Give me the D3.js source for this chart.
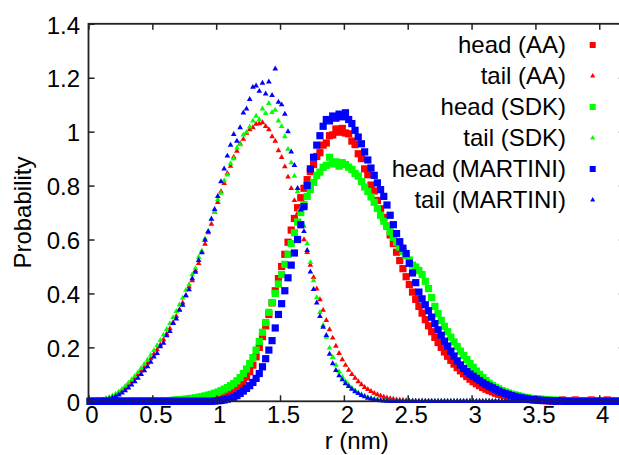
<!DOCTYPE html>
<html><head><meta charset="utf-8">
<script src="https://cdn.jsdelivr.net/npm/d3@7"></script>
<style>
body{margin:0;background:#fff}
svg{display:block}
text{font-family:"Liberation Sans",Arial,Helvetica,sans-serif;font-size:24px;fill:#000}
</style>
</head><body>
<svg id="c" width="619" height="455"></svg>
<script>
// sampling grid of r (nm): start and step of the histogram bins
const rStart = 0.0125, rStep = 0.025, nBins = 170;

const xTicks = [0, 0.5, 1, 1.5, 2, 2.5, 3, 3.5, 4];
const yTicks = [0, 0.2, 0.4, 0.6, 0.8, 1, 1.2, 1.4];
const xLabel = "r (nm)";
const yLabel = "Probability";

const seriesNames = ["head (AA)", "tail (AA)", "head (SDK)", "tail (SDK)", "head (MARTINI)", "tail (MARTINI)"];
const seriesColors = ["#ff0000", "#ff0000", "#00ff00", "#00ff00", "#0000ff", "#0000ff"];
const seriesShapes = ["square", "triangle", "square", "triangle", "square", "triangle"];

const headAA = [
0,0,0,0,0,0,0,0,0,0,
0,0,0,0,0,0,0,0,0,0,
0,0,0,0,0,0,0.001,0.001,0.001,0.002,
0.002,0.003,0.003,0.004,0.005,0.006,0.007,0.009,0.011,0.013,
0.016,0.019,0.023,0.028,0.034,0.041,0.050,0.061,0.074,0.090,
0.110,0.134,0.165,0.200,0.240,0.280,0.322,0.365,0.410,0.455,
0.500,0.545,0.590,0.635,0.678,0.718,0.755,0.790,0.822,0.852,
0.878,0.908,0.922,0.950,0.958,0.985,0.988,1.010,0.998,1.012,
0.995,0.992,0.965,0.952,0.918,0.900,0.862,0.840,0.802,0.780,
0.745,0.714,0.682,0.650,0.617,0.585,0.553,0.522,0.492,0.462,
0.433,0.405,0.378,0.352,0.327,0.303,0.280,0.258,0.237,0.218,
0.200,0.183,0.167,0.152,0.138,0.125,0.113,0.102,0.092,0.082,
0.073,0.065,0.058,0.051,0.045,0.040,0.035,0.030,0.026,0.023,
0.020,0.017,0.015,0.013,0.011,0.009,0.008,0.007,0.006,0.005,
0.004,0.003,0.003,0.002,0.002,0.001,0.001,0.001,0.005,0.001,
0.001,0.001,0.005,0.001,0,0,0,0.005,0,0,
0,0,0.005,0,0,0,0,0,0,0
];
const tailAA = [
0.000,0.001,0.002,0.003,0.005,0.008,0.012,0.017,0.024,0.031,
0.040,0.050,0.061,0.073,0.086,0.099,0.113,0.127,0.142,0.158,
0.175,0.192,0.210,0.229,0.250,0.270,0.292,0.315,0.340,0.365,
0.392,0.424,0.448,0.485,0.512,0.553,0.583,0.626,0.657,0.703,
0.738,0.778,0.808,0.846,0.872,0.906,0.928,0.956,0.972,0.995,
1.008,1.015,1.028,1.030,1.034,1.020,1.008,0.982,0.965,0.930,
0.905,0.870,0.832,0.790,0.745,0.697,0.648,0.600,0.552,0.505,
0.460,0.417,0.377,0.338,0.300,0.266,0.235,0.205,0.178,0.155,
0.134,0.116,0.100,0.086,0.073,0.062,0.052,0.044,0.037,0.030,
0.025,0.020,0.016,0.013,0.010,0.008,0.006,0.005,0.004,0.003,
0.002,0.002,0.001,0.001,0.001,0,0,0,0,0,
0,0,0,0,0,0,0,0,0,0,
0,0,0,0,0,0,0,0,0,0,
0,0,0,0,0,0,0,0,0,0,
0,0,0,0,0,0,0,0,0,0,
0,0,0,0,0,0,0,0,0,0,
0,0,0,0,0,0,0,0,0,0
];
const headSDK = [
0,0,0,0,0,0,0,0,0,0,
0,0,0,0,0,0,0,0.001,0.001,0.001,
0.001,0.001,0.001,0.002,0.002,0.003,0.004,0.005,0.006,0.007,
0.008,0.010,0.011,0.013,0.015,0.017,0.020,0.023,0.026,0.030,
0.034,0.039,0.045,0.051,0.058,0.066,0.076,0.088,0.103,0.120,
0.140,0.162,0.190,0.222,0.256,0.292,0.330,0.366,0.400,0.435,
0.470,0.508,0.545,0.585,0.625,0.665,0.700,0.730,0.760,0.785,
0.812,0.838,0.850,0.868,0.875,0.905,0.880,0.888,0.872,0.885,
0.878,0.868,0.860,0.845,0.835,0.815,0.795,0.778,0.758,0.738,
0.715,0.690,0.668,0.648,0.628,0.608,0.590,0.572,0.556,0.540,
0.524,0.505,0.498,0.485,0.470,0.445,0.418,0.385,0.352,0.325,
0.300,0.278,0.258,0.238,0.220,0.203,0.186,0.170,0.155,0.140,
0.126,0.112,0.100,0.088,0.077,0.067,0.059,0.052,0.046,0.040,
0.035,0.031,0.027,0.024,0.021,0.018,0.015,0.013,0.011,0.010,
0.009,0.008,0.007,0.006,0.005,0.004,0.004,0.003,0.003,0.002,
0.002,0.002,0.002,0.001,0.001,0.001,0.001,0.001,0.001,0.001,
0.001,0,0,0,0,0,0,0,0,0
];
const tailSDK = [
0,0.001,0.002,0.004,0.006,0.010,0.014,0.020,0.027,0.035,
0.045,0.056,0.068,0.080,0.093,0.107,0.122,0.138,0.154,0.171,
0.189,0.207,0.226,0.246,0.267,0.288,0.311,0.334,0.358,0.383,
0.412,0.433,0.470,0.493,0.535,0.558,0.603,0.630,0.676,0.702,
0.748,0.772,0.818,0.840,0.882,0.900,0.940,0.952,0.988,0.998,
1.018,1.040,1.058,1.045,1.085,1.068,1.105,1.072,1.080,1.040,
1.020,0.982,0.935,0.885,0.835,0.778,0.715,0.650,0.585,0.515,
0.448,0.385,0.330,0.282,0.238,0.198,0.163,0.134,0.110,0.090,
0.074,0.060,0.049,0.040,0.032,0.025,0.020,0.015,0.011,0.008,
0.006,0.004,0.003,0.002,0.001,0,0,0,0,0,
0,0,0,0,0,0,0,0,0,0,
0,0,0,0,0,0,0,0,0,0,
0,0,0,0,0,0,0,0,0,0,
0,0,0,0,0,0,0,0,0,0,
0,0,0,0,0,0,0,0,0,0,
0,0,0,0,0,0,0,0,0,0,
0,0,0,0,0,0,0,0,0,0
];
const headMARTINI = [
0,0,0,0,0,0,0,0,0,0,
0,0,0,0,0,0,0,0,0,0,
0,0,0,0,0,0,0,0,0,0,
0,0,0,0,0,0,0,0,0,0.001,
0.002,0.003,0.005,0.008,0.011,0.015,0.021,0.029,0.038,0.048,
0.058,0.070,0.085,0.103,0.128,0.158,0.190,0.225,0.272,0.322,
0.362,0.410,0.458,0.505,0.550,0.600,0.655,0.722,0.800,0.862,
0.905,0.950,0.985,1.020,1.045,1.040,1.058,1.050,1.065,1.055,
1.070,1.045,1.030,1.005,0.980,0.955,0.925,0.895,0.865,0.838,
0.810,0.785,0.760,0.728,0.690,0.655,0.622,0.592,0.568,0.548,
0.512,0.476,0.440,0.405,0.380,0.358,0.336,0.312,0.288,0.265,
0.245,0.223,0.205,0.186,0.168,0.150,0.135,0.122,0.111,0.101,
0.093,0.085,0.077,0.069,0.062,0.056,0.050,0.044,0.038,0.033,
0.029,0.025,0.021,0.018,0.015,0.013,0.011,0.009,0.007,0.006,
0.005,0.004,0.003,0.003,0.002,0.001,0.001,0.001,0.001,0,
0,0,0,0,0,0,0,0,0,0,
0,0,0,0,0,0,0,0,0,0
];
const tailMARTINI = [
0,0.001,0.001,0.002,0.004,0.006,0.009,0.013,0.018,0.024,
0.031,0.040,0.050,0.061,0.073,0.086,0.100,0.114,0.129,0.145,
0.165,0.178,0.203,0.216,0.244,0.259,0.289,0.306,0.338,0.357,
0.392,0.414,0.455,0.479,0.523,0.551,0.598,0.630,0.676,0.712,
0.760,0.815,0.862,0.910,0.950,0.990,0.965,1.015,1.070,1.085,
1.120,1.165,1.170,1.150,1.180,1.140,1.185,1.135,1.233,1.110,
1.100,1.065,1.000,0.925,0.875,0.790,0.710,0.630,0.560,0.480,
0.415,0.365,0.315,0.275,0.245,0.175,0.140,0.115,0.095,0.080,
0.066,0.055,0.045,0.036,0.029,0.022,0.017,0.012,0.009,0.006,
0.004,0.003,0.002,0.001,0,0,0,0,0,0,
0,0,0,0,0,0,0,0,0,0,
0,0,0,0,0,0,0,0,0,0,
0,0,0,0,0,0,0,0,0,0,
0,0,0,0,0,0,0,0,0,0,
0,0,0,0,0,0,0,0,0,0,
0,0,0,0,0,0,0,0,0,0,
0,0,0,0,0,0,0,0,0,0
];
const seriesValues = [headAA, tailAA, headSDK, tailSDK, headMARTINI, tailMARTINI];

(function () {
const r = d3.range(nBins).map(i => rStart + i * rStep);

const svg = d3.select("#c");
const x = d3.scaleLinear().domain([0, 4.2]).range([88.5, 624.8]);
const y = d3.scaleLinear().domain([0, 1.4]).range([401.3, 23.8]);

const sq = 7.2;
const tri = d3.symbol().type(d3.symbolTriangle).size(14);

function drawMarker(g, shape, color, cx, cy, s) {
  if (shape === "square") {
    g.append("rect").attr("x", cx - s/2).attr("y", cy - s/2)
      .attr("width", s).attr("height", s).attr("fill", color);
  } else {
    g.append("path").attr("d", d3.symbol().type(d3.symbolTriangle).size(11))
      .attr("transform", `translate(${cx},${cy})`).attr("fill", color);
  }
}

const plot = svg.append("g");
seriesValues.forEach((vals, si) => {
  const g = plot.append("g");
  const data = vals.map((v, i) => ({r: r[i], v}));
  if (seriesShapes[si] === "square") {
    g.selectAll("rect").data(data).join("rect")
      .attr("x", d => x(d.r) - sq/2).attr("y", d => y(d.v) - sq/2)
      .attr("width", sq).attr("height", sq).attr("fill", seriesColors[si]);
  } else {
    g.selectAll("path").data(data).join("path")
      .attr("d", tri).attr("transform", d => `translate(${x(d.r)},${y(d.v)})`)
      .attr("fill", seriesColors[si]);
  }
});

// axes
const axisColor = "#222";
const axB = svg.append("g").attr("transform", `translate(0,${y(0)})`)
  .call(d3.axisBottom(x).tickValues(xTicks).tickSize(-6).tickFormat(d => String(d)));
const axT = svg.append("g").attr("transform", `translate(0,${y(1.4)})`)
  .call(d3.axisTop(x).tickValues(xTicks).tickSize(-6).tickFormat(""));
const axL = svg.append("g").attr("transform", `translate(${x(0)},0)`)
  .call(d3.axisLeft(y).tickValues(yTicks).tickSize(-6).tickFormat(d => String(d)));
const axR = svg.append("g").attr("transform", `translate(${x(4.2)},0)`)
  .call(d3.axisRight(y).tickValues(yTicks).tickSize(-6).tickFormat(""));
[axB, axT, axL, axR].forEach(a => {
  a.select(".domain").remove();
  a.selectAll(".tick line").attr("stroke", axisColor).attr("stroke-width", 1.5);
  a.attr("font-family", null).attr("font-size", null);
});
axB.selectAll(".tick text").attr("y", 21.7).attr("dy", null).attr("dx", 3)
  .style("font-size", "24px").attr("fill", "#000");
axL.selectAll(".tick text").attr("x", -8.5).attr("dy", null).attr("y", 9.2)
  .style("font-size", "24px").attr("fill", "#000");

svg.append("rect").attr("x", x(0)).attr("y", y(1.4))
  .attr("width", x(4.2) - x(0)).attr("height", y(0) - y(1.4))
  .attr("fill", "none").attr("stroke", axisColor).attr("stroke-width", 1.8);

// axis labels
svg.append("text").attr("x", (x(0) + x(4.2)) / 2).attr("y", 449).attr("text-anchor", "middle").text(xLabel);
svg.append("text").attr("transform", `translate(31,${(y(0) + y(1.4)) / 2}) rotate(-90)`)
  .attr("text-anchor", "middle").text(yLabel);

// legend
const leg = svg.append("g");
seriesNames.forEach((name, i) => {
  const by = 53.3 + i * 31;
  leg.append("text").attr("x", 566).attr("y", by).attr("text-anchor", "end").text(name);
  drawMarker(leg, seriesShapes[i], seriesColors[i], 592.7, by - 8.3, 6);
});
})();
</script>
</body></html>
